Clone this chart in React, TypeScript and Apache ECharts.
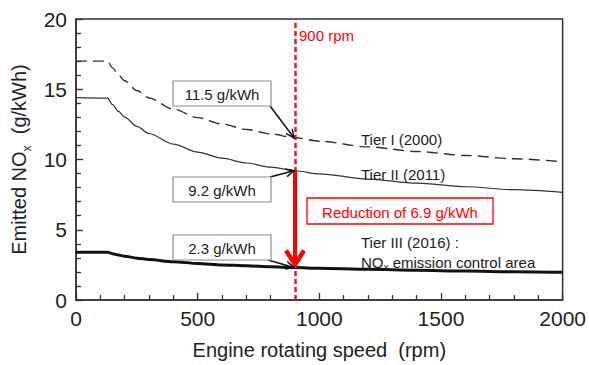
import React, { useEffect, useRef } from "react";
import * as echarts from "echarts";

const rpm = [0, 130, 150, 175, 200, 250, 300, 400, 500, 600, 700, 800, 900, 1000, 1200, 1400, 1600, 1800, 2000];
const tierI = [17.0, 17.0, 16.52, 16.02, 15.6, 14.91, 14.38, 13.58, 12.98, 12.52, 12.14, 11.82, 11.55, 11.3, 10.9, 10.57, 10.29, 10.05, 9.84];
const tierII = [14.4, 14.37, 13.9, 13.42, 13.01, 12.36, 11.85, 11.09, 10.53, 10.1, 9.75, 9.46, 9.2, 8.98, 8.61, 8.32, 8.06, 7.85, 7.66];
const tierIII = [3.4, 3.4, 3.3, 3.2, 3.12, 2.98, 2.88, 2.72, 2.6, 2.5, 2.43, 2.36, 2.31, 2.26, 2.18, 2.11, 2.06, 2.01, 1.97];

const markRpm = 900;
const callouts = [
  { label: "11.5 g/kWh", value: 11.55 },
  { label: "9.2 g/kWh", value: 9.2 },
  { label: "2.3 g/kWh", value: 2.31 },
];
const reductionFrom = 9.2;
const reductionTo = 2.31;
const reductionLabel = "Reduction of 6.9 g/kWh";
const tierLabels = ["Tier I (2000)", "Tier II (2011)", "Tier III (2016) :"];

const FONT = "Liberation Sans, Arial, sans-serif";

export default function App() {
  const ref = useRef<HTMLDivElement>(null);
  useEffect(() => {
    if (!ref.current) return;
    const chart = echarts.init(ref.current, null, { renderer: "svg" });
    const pair = (ys: number[]) => rpm.map((x, i) => [x, ys[i]]);

    const boxX = 173, boxW = 98;
    const boxY = [81, 177, 235];
    const boxH = 25;
    const arrowStart = [
      [270, 106],
      [270, 177],
      [268, 260],
    ];

    const arrowHead = (x0: number, y0: number, x1: number, y1: number, len: number, ang: number) => {
      const a = Math.atan2(y1 - y0, x1 - x0);
      return [
        [x1 - len * Math.cos(a - ang), y1 - len * Math.sin(a - ang)],
        [x1, y1],
        [x1 - len * Math.cos(a + ang), y1 - len * Math.sin(a + ang)],
      ];
    };

    const option: any = {
      animation: false,
      textStyle: { fontFamily: FONT },
      grid: { left: 76, top: 19, right: 26, bottom: 59, show: true, borderColor: "#333", borderWidth: 1.5 },
      xAxis: {
        type: "value",
        min: 0,
        max: 2000,
        interval: 500,
        name: "Engine rotating speed  (rpm)",
        nameLocation: "middle",
        nameGap: 40,
        nameTextStyle: { fontSize: 20, color: "#222", fontFamily: FONT },
        axisLine: { lineStyle: { color: "#333", width: 1.5 } },
        axisTick: { inside: true, length: 7, lineStyle: { color: "#333", width: 1.3 } },
        minorTick: { show: true, splitNumber: 5, length: 5, lineStyle: { color: "#333", width: 1.3 } },
        splitLine: { show: false },
        axisLabel: { fontSize: 21, color: "#222", margin: 8, fontFamily: FONT, formatter: (v: number) => String(v) },
      },
      yAxis: {
        type: "value",
        min: 0,
        max: 20,
        interval: 5,
        name: "{a|Emitted NO}{s|x}{a|  (g/kWh)}",
        nameLocation: "middle",
        nameGap: 41,
        nameTextStyle: {
          fontFamily: FONT,
          rich: {
            a: { fontSize: 20, color: "#222", fontFamily: FONT },
            s: { fontSize: 12, color: "#222", fontFamily: FONT, verticalAlign: "bottom", padding: [0, 0, -4, 0] },
          },
        },
        axisLine: { lineStyle: { color: "#333", width: 1.5 } },
        axisTick: { inside: true, length: 7, lineStyle: { color: "#333", width: 1.3 } },
        minorTick: { show: true, splitNumber: 5, length: 5, lineStyle: { color: "#333", width: 1.3 } },
        splitLine: { show: false },
        axisLabel: { fontSize: 21, color: "#222", margin: 9, fontFamily: FONT },
      },
      series: [
        {
          name: "Tier I",
          type: "line",
          data: pair(tierI),
          showSymbol: false,
          smooth: 0.3,
          smoothMonotone: "x",
          lineStyle: { color: "#333", width: 1.4, type: [11, 6] },
          z: 3,
          markLine: {
            silent: true,
            symbol: "none",
            label: { show: false },
            lineStyle: { color: "#e3191c", width: 2.5, type: [5, 3] },
            data: [{ xAxis: markRpm }],
          },
        },
        {
          name: "Tier II",
          type: "line",
          data: pair(tierII),
          showSymbol: false,
          smooth: 0.3,
          smoothMonotone: "x",
          lineStyle: { color: "#333", width: 1.2 },
          z: 3,
        },
        {
          name: "Tier III",
          type: "line",
          data: pair(tierIII),
          showSymbol: false,
          smooth: 0.3,
          smoothMonotone: "x",
          lineStyle: { color: "#111", width: 3 },
          z: 3,
        },
        {
          type: "custom",
          coordinateSystem: "cartesian2d",
          data: [[markRpm, reductionFrom]],
          clip: false,
          silent: true,
          z: 10,
          renderItem: (params: any, api: any) => {
            const children: any[] = [];
            const p0 = api.coord([markRpm, reductionFrom]);
            const p1 = api.coord([markRpm, reductionTo]);
            children.push({
              type: "line",
              shape: { x1: p0[0], y1: p0[1], x2: p1[0], y2: p1[1] - 3 },
              style: { stroke: "#ff0000", lineWidth: 4 },
            });
            children.push({
              type: "polyline",
              shape: { points: [[p1[0] - 9, p1[1] - 17], [p1[0], p1[1] - 3], [p1[0] + 9, p1[1] - 17]] },
              style: { stroke: "#ff0000", lineWidth: 4.5, fill: "none", lineJoin: "miter" },
            });
            callouts.forEach((c, i) => {
              const e = api.coord([markRpm, c.value]);
              const s = arrowStart[i];
              children.push({
                type: "line",
                shape: { x1: s[0], y1: s[1], x2: e[0] - 1, y2: e[1] },
                style: { stroke: "#111", lineWidth: 1.5 },
              });
              children.push({
                type: "polyline",
                shape: { points: arrowHead(s[0], s[1], e[0] - 1, e[1], 9, 0.45) },
                style: { stroke: "#111", lineWidth: 1.5, fill: "none" },
              });
            });
            return { type: "group", children };
          },
        },
      ],
      graphic: [
        ...callouts.map((c, i) => ({
          type: "rect",
          shape: { x: boxX, y: boxY[i], width: boxW, height: boxH },
          style: { fill: "#fff", stroke: "#8c8c8c", lineWidth: 1.2 },
          z: 20,
        })),
        ...callouts.map((c, i) => ({
          type: "text",
          x: boxX + boxW / 2,
          y: boxY[i] + boxH / 2 + 1,
          style: { text: c.label, font: `15px ${FONT}`, fill: "#222", align: "center", verticalAlign: "middle" },
          z: 21,
        })),
        {
          type: "rect",
          shape: { x: 307, y: 198, width: 186, height: 26 },
          style: { fill: "#fff", stroke: "#ff0000", lineWidth: 1.3 },
          z: 20,
        },
        {
          type: "text",
          x: 400,
          y: 212,
          style: { text: reductionLabel, font: `15px ${FONT}`, fill: "#ff0000", align: "center", verticalAlign: "middle" },
          z: 21,
        },
        {
          type: "text",
          x: 299,
          y: 35,
          style: { text: `${markRpm} rpm`, font: `15px ${FONT}`, fill: "#ff0000", align: "left", verticalAlign: "middle" },
          z: 21,
        },
        {
          type: "text",
          x: 361,
          y: 139,
          style: { text: tierLabels[0], font: `15px ${FONT}`, fill: "#222", align: "left", verticalAlign: "middle" },
          z: 21,
        },
        {
          type: "text",
          x: 361,
          y: 174,
          style: { text: tierLabels[1], font: `15px ${FONT}`, fill: "#222", align: "left", verticalAlign: "middle" },
          z: 21,
        },
        {
          type: "text",
          x: 361,
          y: 242,
          style: { text: tierLabels[2], font: `15px ${FONT}`, fill: "#222", align: "left", verticalAlign: "middle" },
          z: 21,
        },
        {
          type: "text",
          x: 361,
          y: 262,
          style: {
            text: "{a|NO}{s|x}{a| emission control area}",
            font: `15px ${FONT}`,
            fill: "#222",
            align: "left",
            verticalAlign: "middle",
            rich: {
              a: { fontSize: 15, fontFamily: FONT, fill: "#222" },
              s: { fontSize: 10, fontFamily: FONT, fill: "#222", verticalAlign: "bottom", padding: [0, 0, -3, 0] },
            },
          },
          z: 21,
        },
      ],
    };
    chart.setOption(option);
    return () => chart.dispose();
  }, []);
  return <div ref={ref} style={{ position: "absolute", left: 0, top: 0, width: 589, height: 365 }} />;
}
